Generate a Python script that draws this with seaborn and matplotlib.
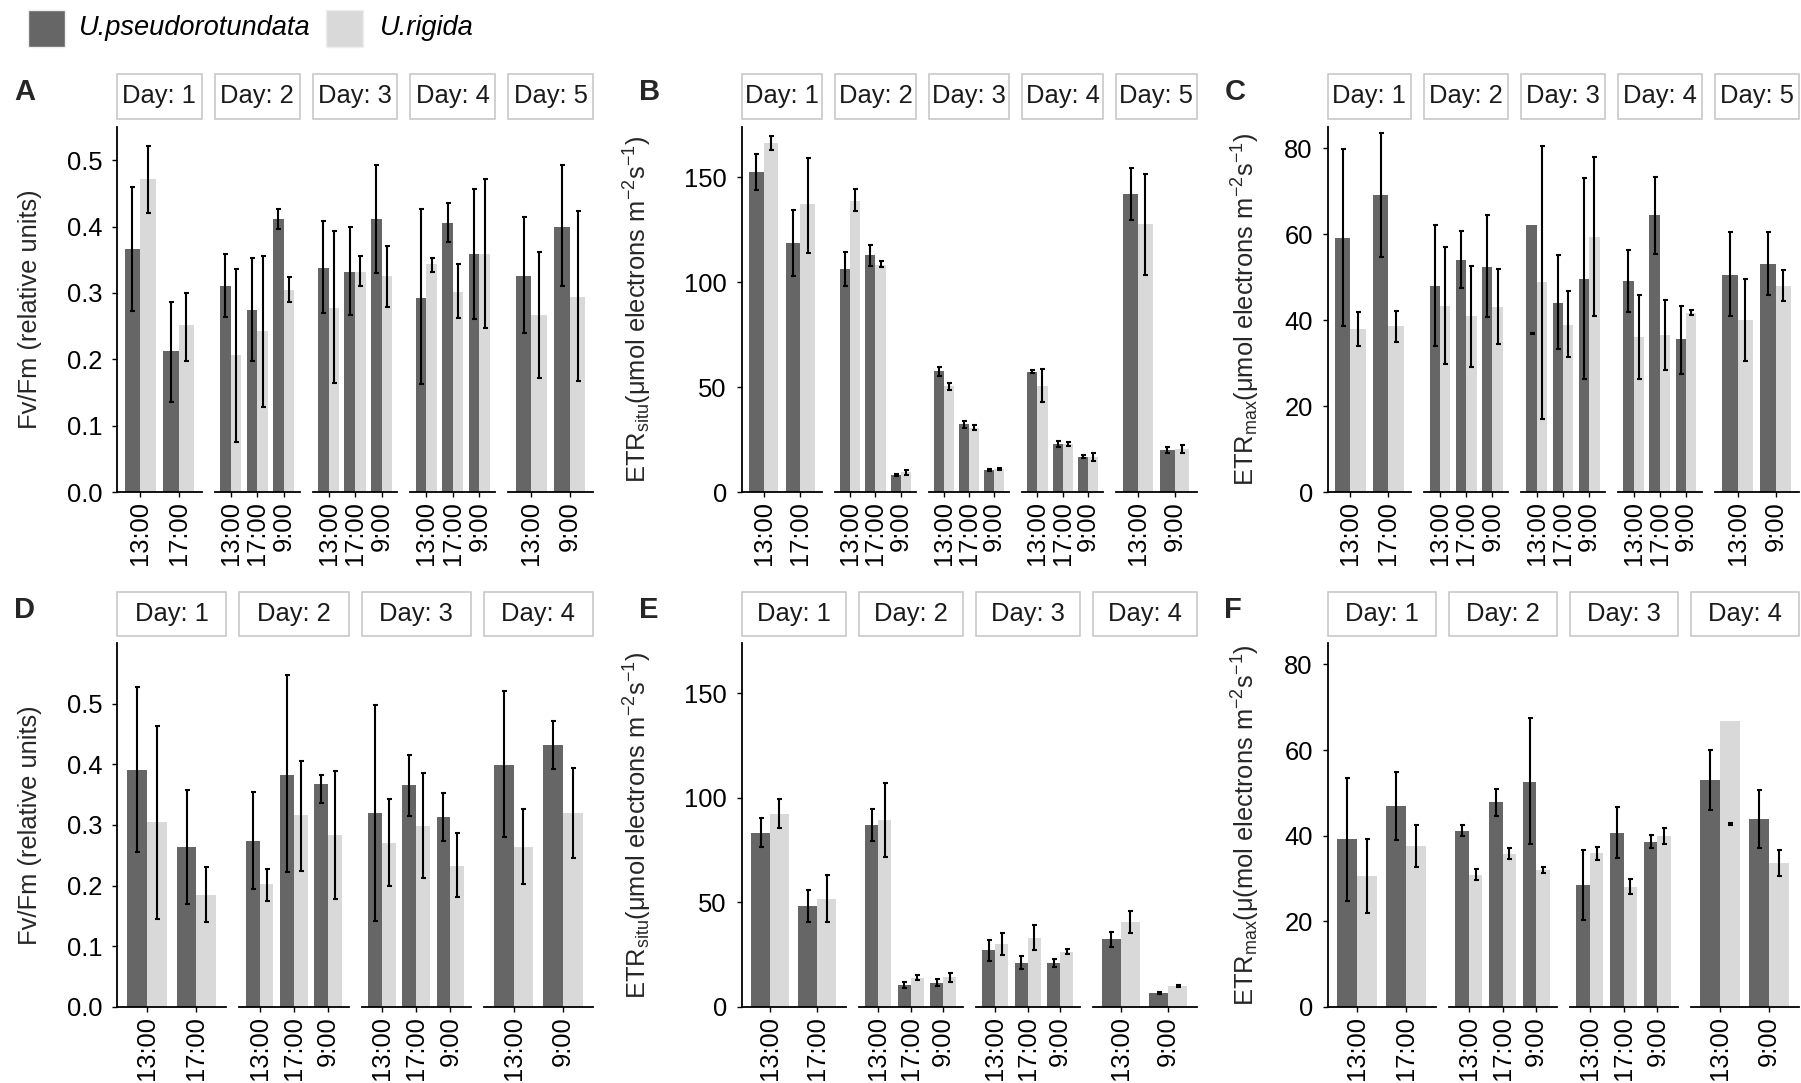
import pandas as pd
import seaborn as sns
import matplotlib.pyplot as plt
from matplotlib.patches import Rectangle

W, H = 1801, 1083

SPECIES = ['U.pseudorotundata', 'U.rigida']
COLORS = ['#666666', '#d9d9d9']

TOP_DAY = [1, 1, 2, 2, 2, 3, 3, 3, 4, 4, 4, 5, 5]
TOP_TIME = ['13:00', '17:00', '13:00', '17:00', '9:00', '13:00', '17:00', '9:00',
            '13:00', '17:00', '9:00', '13:00', '9:00']
BOT_DAY = [1, 1, 2, 2, 2, 3, 3, 3, 4, 4]
BOT_TIME = ['13:00', '17:00', '13:00', '17:00', '9:00', '13:00', '17:00', '9:00',
            '13:00', '9:00']

# A: Fv/Fm, first campaign
A_UP = [0.366, 0.212, 0.310, 0.274, 0.411, 0.337, 0.332, 0.411, 0.293, 0.405, 0.358, 0.326, 0.400]
A_UP_LO = [0.272, 0.136, 0.263, 0.198, 0.397, 0.269, 0.267, 0.330, 0.162, 0.377, 0.260, 0.240, 0.310]
A_UP_HI = [0.459, 0.286, 0.359, 0.352, 0.426, 0.408, 0.399, 0.493, 0.427, 0.435, 0.457, 0.415, 0.492]
A_UR = [0.472, 0.251, 0.206, 0.242, 0.305, 0.278, 0.331, 0.325, 0.343, 0.301, 0.358, 0.267, 0.294]
A_UR_LO = [0.421, 0.198, 0.076, 0.128, 0.286, 0.164, 0.310, 0.279, 0.332, 0.262, 0.247, 0.172, 0.167]
A_UR_HI = [0.522, 0.300, 0.336, 0.355, 0.324, 0.393, 0.355, 0.371, 0.352, 0.343, 0.471, 0.361, 0.424]

# B: ETR situ
B_UP = [152.7, 118.7, 106.3, 112.9, 8.0, 57.6, 32.5, 10.4, 57.3, 22.7, 16.8, 142.0, 20.0]
B_UP_LO = [143.9, 103.2, 98.4, 107.5, 7.7, 55.5, 30.7, 9.9, 56.5, 21.3, 16.0, 129.5, 18.7]
B_UP_HI = [161.2, 134.3, 114.3, 117.9, 8.6, 59.8, 33.9, 10.9, 58.1, 24.3, 17.6, 154.3, 21.3]
B_UR = [166.3, 137.1, 138.8, 108.4, 9.6, 50.4, 30.7, 10.9, 50.4, 22.9, 16.8, 127.6, 20.3]
B_UR_LO = [162.8, 114.0, 134.0, 107.1, 8.3, 48.8, 29.7, 10.6, 42.9, 22.1, 14.7, 103.6, 18.4]
B_UR_HI = [169.5, 159.4, 144.3, 109.9, 10.7, 52.0, 32.0, 11.4, 58.4, 24.0, 18.4, 151.4, 22.4]

# C: ETR max
C_UP = [59.2, 69.2, 47.9, 54.0, 52.4, 62.1, 44.0, 49.5, 49.1, 64.4, 35.6, 50.6, 53.2]
C_UP_LO = [38.7, 54.8, 34.1, 47.4, 40.7, 36.8, 33.3, 26.3, 41.9, 55.5, 27.5, 40.9, 45.8]
C_UP_HI = [79.8, 83.7, 62.1, 60.7, 64.5, 37.0, 55.1, 73.2, 56.3, 73.4, 43.2, 60.6, 60.6]
C_UR = [38.0, 38.6, 43.2, 40.9, 43.0, 48.8, 38.9, 59.3, 36.2, 36.6, 41.8, 40.0, 47.9]
C_UR_LO = [34.0, 35.0, 29.8, 29.2, 34.5, 17.0, 31.4, 41.0, 26.2, 28.4, 41.3, 30.6, 44.4]
C_UR_HI = [41.9, 42.2, 57.1, 52.6, 51.9, 80.6, 46.7, 78.0, 45.9, 44.8, 42.4, 49.6, 51.6]

# D: Fv/Fm, second campaign
D_UP = [0.390, 0.264, 0.274, 0.383, 0.368, 0.320, 0.366, 0.313, 0.399, 0.432]
D_UP_LO = [0.255, 0.170, 0.195, 0.223, 0.337, 0.141, 0.315, 0.274, 0.280, 0.393]
D_UP_HI = [0.527, 0.358, 0.355, 0.547, 0.383, 0.497, 0.416, 0.353, 0.521, 0.471]
D_UR = [0.305, 0.185, 0.202, 0.317, 0.284, 0.271, 0.299, 0.233, 0.264, 0.320]
D_UR_LO = [0.145, 0.140, 0.174, 0.225, 0.178, 0.200, 0.212, 0.181, 0.203, 0.245]
D_UR_HI = [0.463, 0.230, 0.228, 0.406, 0.389, 0.343, 0.386, 0.286, 0.327, 0.394]

# E: ETR situ
E_UP = [83.3, 48.2, 87.0, 10.7, 11.6, 27.1, 21.2, 21.1, 32.4, 6.9]
E_UP_LO = [76.6, 40.7, 79.5, 9.3, 10.2, 21.9, 18.4, 19.1, 28.7, 6.4]
E_UP_HI = [90.5, 55.8, 94.6, 12.0, 13.2, 32.2, 24.4, 23.0, 35.9, 7.2]
E_UR = [92.1, 51.5, 89.4, 13.9, 14.4, 30.3, 33.0, 26.3, 40.7, 10.1]
E_UR_LO = [85.4, 40.7, 71.8, 12.8, 12.0, 24.7, 27.4, 25.1, 35.6, 9.6]
E_UR_HI = [99.3, 63.2, 107.2, 15.2, 16.3, 35.4, 39.1, 27.6, 45.8, 10.5]

# F: ETR max
F_UP = [39.3, 46.9, 41.2, 47.8, 52.6, 28.4, 40.7, 38.5, 52.9, 44.0]
F_UP_LO = [24.8, 39.1, 39.9, 44.6, 38.0, 20.3, 34.7, 37.1, 46.1, 37.2]
F_UP_HI = [53.5, 54.8, 42.5, 50.9, 67.6, 36.7, 46.7, 40.2, 60.1, 50.6]
F_UR = [30.6, 37.6, 30.9, 35.8, 32.0, 35.9, 28.1, 39.9, 66.9, 33.6]
F_UR_LO = [21.9, 32.8, 29.6, 34.5, 31.2, 34.3, 26.4, 38.0, 42.6, 30.6]
F_UR_HI = [39.3, 42.6, 32.2, 37.2, 32.8, 37.4, 30.0, 41.9, 42.9, 36.7]

FVFM_LABEL = 'Fv/Fm (relative units)'
SITU_LABEL = r'ETR$_{\mathregular{situ}}$(μmol electrons m$^{\mathregular{-2}}$s$^{\mathregular{-1}}$)'
MAX_LABEL = r'ETR$_{\mathregular{max}}$(μmol electrons m$^{\mathregular{-2}}$s$^{\mathregular{-1}}$)'
MAX_LABEL_F = r'ETR$_{\mathregular{max}}$(μ(mol electrons m$^{\mathregular{-2}}$s$^{\mathregular{-1}}$)'

sns.set_style('white')
plt.rcParams['font.family'] = ['Liberation Sans', 'DejaVu Sans']
plt.rcParams['mathtext.fontset'] = 'custom'
plt.rcParams['mathtext.rm'] = 'Liberation Sans'
plt.rcParams['mathtext.it'] = 'Liberation Sans:italic'
plt.rcParams['mathtext.bf'] = 'Liberation Sans:bold'

FS = 18.4


def px_rect(x0, y0, x1, y1):
    return [x0 / W, 1 - y1 / H, (x1 - x0) / W, (y1 - y0) / H]


def make_df(days, times, up, up_lo, up_hi, ur, ur_lo, ur_hi):
    rows = []
    for i in range(len(days)):
        rows.append({'day': days[i], 'time': times[i], 'species': SPECIES[0],
                     'value': up[i], 'lo': up_lo[i], 'hi': up_hi[i]})
        rows.append({'day': days[i], 'time': times[i], 'species': SPECIES[1],
                     'value': ur[i], 'lo': ur_lo[i], 'hi': ur_hi[i]})
    return pd.DataFrame(rows)


def draw_panel(fig, df, letter, ylabel, ylim, yticks, fmt, x0, x1, row, lab_x):
    if row == 0:
        ay0, ay1, sy0, sy1 = 127, 492, 74, 119
    else:
        ay0, ay1, sy0, sy1 = 643, 1007, 592, 636
    days = list(dict.fromkeys(df['day']))
    n = len(days)
    gap = 13
    fw = (x1 - x0 - gap * (n - 1)) / n
    for k, day in enumerate(days):
        fx0 = x0 + k * (fw + gap)
        ax = fig.add_axes(px_rect(fx0, ay0, fx0 + fw, ay1))
        sub = df[df['day'] == day]
        order = list(dict.fromkeys(sub['time']))
        sns.barplot(data=sub, x='time', y='value', hue='species', order=order,
                    hue_order=SPECIES, palette=COLORS, saturation=1, width=0.8,
                    errorbar=None, legend=False, linewidth=0, ax=ax)
        for cont, sp in zip(ax.containers, SPECIES):
            for bar, t in zip(cont, order):
                r = sub[(sub['time'] == t) & (sub['species'] == sp)].iloc[0]
                xc = bar.get_x() + bar.get_width() / 2
                ax.errorbar(xc, (r['lo'] + r['hi']) / 2, yerr=(r['hi'] - r['lo']) / 2,
                            fmt='none', ecolor='black', elinewidth=1.5,
                            capsize=1.8, capthick=1.5, zorder=5)
        ax.set_xlim(-0.6, len(order) - 0.4)
        ax.set_ylim(*ylim)
        ax.set_xlabel('')
        ax.set_ylabel('')
        ax.set_facecolor('none')
        for s in ['top', 'right']:
            ax.spines[s].set_visible(False)
        ax.spines['bottom'].set_linewidth(1.3)
        ax.spines['bottom'].set_color('black')
        ax.tick_params(axis='x', direction='out', length=3.6, width=1.0, pad=3.0,
                       labelsize=FS, labelrotation=90, bottom=True, colors='black')
        if k == 0:
            ax.spines['left'].set_linewidth(1.3)
            ax.spines['left'].set_color('black')
            ax.set_yticks(yticks)
            ax.set_yticklabels([fmt.format(v) for v in yticks])
            ax.tick_params(axis='y', direction='out', length=3.6, width=1.0, pad=7,
                           labelsize=FS, left=True, colors='black')
        else:
            ax.spines['left'].set_visible(False)
            ax.tick_params(axis='y', left=False, labelleft=False)
        # facet strip
        fig.add_artist(Rectangle((fx0 / W, 1 - sy1 / H), fw / W, (sy1 - sy0) / H,
                                 transform=fig.transFigure, facecolor='white',
                                 edgecolor='#c4c4c4', linewidth=1.1))
        fig.text((fx0 + fw / 2) / W, 1 - (sy0 + sy1) / 2 / H, f'Day: {day}',
                 ha='center', va='center', fontsize=FS, color='#1a1a1a')
    fig.text((x0 - 103) / W, 1 - (sy0 + 4) / H, letter, ha='left', va='top',
             fontsize=21, fontweight='bold')
    fig.text(lab_x / W, 1 - (ay0 + ay1) / 2 / H, ylabel, rotation=90,
             ha='center', va='center', fontsize=FS)


fig = plt.figure(figsize=(W / 100, H / 100), dpi=100)

dfA = make_df(TOP_DAY, TOP_TIME, A_UP, A_UP_LO, A_UP_HI, A_UR, A_UR_LO, A_UR_HI)
dfB = make_df(TOP_DAY, TOP_TIME, B_UP, B_UP_LO, B_UP_HI, B_UR, B_UR_LO, B_UR_HI)
dfC = make_df(TOP_DAY, TOP_TIME, C_UP, C_UP_LO, C_UP_HI, C_UR, C_UR_LO, C_UR_HI)
dfD = make_df(BOT_DAY, BOT_TIME, D_UP, D_UP_LO, D_UP_HI, D_UR, D_UR_LO, D_UR_HI)
dfE = make_df(BOT_DAY, BOT_TIME, E_UP, E_UP_LO, E_UP_HI, E_UR, E_UR_LO, E_UR_HI)
dfF = make_df(BOT_DAY, BOT_TIME, F_UP, F_UP_LO, F_UP_HI, F_UR, F_UR_LO, F_UR_HI)

fv_ticks = [0.0, 0.1, 0.2, 0.3, 0.4, 0.5]
draw_panel(fig, dfA, 'A', FVFM_LABEL, (0, 0.55), fv_ticks, '{:.1f}', 117, 593, 0, 30)
draw_panel(fig, dfB, 'B', SITU_LABEL, (0, 174), [0, 50, 100, 150], '{:.0f}', 741.6, 1196.5, 0, 638)
draw_panel(fig, dfC, 'C', MAX_LABEL, (0, 85), [0, 20, 40, 60, 80], '{:.0f}', 1327.5, 1798.5, 0, 1246)
draw_panel(fig, dfD, 'D', FVFM_LABEL, (0, 0.60), fv_ticks, '{:.1f}', 117, 593, 1, 30)
draw_panel(fig, dfE, 'E', SITU_LABEL, (0, 174), [0, 50, 100, 150], '{:.0f}', 741.6, 1196.5, 1, 638)
draw_panel(fig, dfF, 'F', MAX_LABEL_F, (0, 85), [0, 20, 40, 60, 80], '{:.0f}', 1327.5, 1798.5, 1, 1246)

# legend at the top
for (lx, tx), sp, col in zip([(28, 79), (326, 380)], SPECIES, COLORS):
    fig.add_artist(Rectangle((lx / W, 1 - 47 / H), 37 / W, 37 / H,
                             transform=fig.transFigure, facecolor=col,
                             edgecolor='#eeeeee', linewidth=1.0))
    fig.text(tx / W, 1 - 28 / H, sp, ha='left', va='center', fontsize=19.6,
             style='italic', color='black')

fig.savefig('out.png', dpi=100, facecolor='white')
